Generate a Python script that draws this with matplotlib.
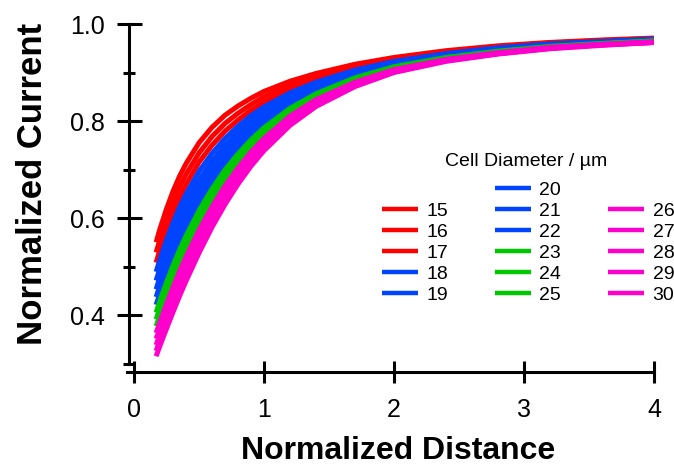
import matplotlib
matplotlib.use("Agg")
import matplotlib.pyplot as plt
from matplotlib.lines import Line2D
from matplotlib.ticker import FixedLocator

plt.rcParams['font.family'] = ['Liberation Sans', 'DejaVu Sans']

# Normalized tip-substrate distance at which each curve is sampled
distance = [0.17, 0.20, 0.25, 0.30, 0.35, 0.40, 0.50, 0.60, 0.70, 0.80, 0.90,
            1.00, 1.20, 1.40, 1.70, 2.00, 2.40, 2.80, 3.20, 3.60, 4.00]

# Cell diameters (µm) and their normalized approach curves
diameters = [15, 16, 17, 18, 19, 20, 21, 22, 23, 24, 25, 26, 27, 28, 29, 30]
current_15 = [0.550, 0.578, 0.619, 0.655, 0.686, 0.712, 0.755, 0.787, 0.812, 0.831, 0.847,
              0.861, 0.882, 0.898, 0.917, 0.931, 0.945, 0.955, 0.962, 0.967, 0.971]
current_16 = [0.529, 0.556, 0.597, 0.632, 0.664, 0.690, 0.734, 0.768, 0.795, 0.816, 0.834,
              0.850, 0.874, 0.892, 0.913, 0.928, 0.943, 0.953, 0.961, 0.966, 0.970]
current_17 = [0.508, 0.535, 0.575, 0.611, 0.642, 0.669, 0.715, 0.750, 0.779, 0.802, 0.822,
              0.839, 0.866, 0.886, 0.909, 0.926, 0.941, 0.952, 0.960, 0.965, 0.969]
current_18 = [0.489, 0.515, 0.555, 0.590, 0.622, 0.649, 0.696, 0.733, 0.764, 0.789, 0.811,
              0.829, 0.858, 0.880, 0.905, 0.923, 0.939, 0.951, 0.959, 0.964, 0.969]
current_19 = [0.471, 0.497, 0.536, 0.571, 0.603, 0.630, 0.678, 0.717, 0.750, 0.777, 0.800,
              0.820, 0.851, 0.875, 0.901, 0.921, 0.938, 0.949, 0.958, 0.963, 0.968]
current_20 = [0.453, 0.479, 0.517, 0.552, 0.584, 0.612, 0.662, 0.702, 0.736, 0.765, 0.789,
              0.811, 0.845, 0.870, 0.898, 0.918, 0.936, 0.948, 0.957, 0.962, 0.967]
current_21 = [0.437, 0.462, 0.500, 0.535, 0.567, 0.595, 0.645, 0.688, 0.723, 0.753, 0.779,
              0.802, 0.838, 0.865, 0.895, 0.916, 0.934, 0.947, 0.956, 0.962, 0.967]
current_22 = [0.421, 0.445, 0.483, 0.518, 0.550, 0.579, 0.630, 0.674, 0.711, 0.742, 0.770,
              0.794, 0.832, 0.861, 0.892, 0.914, 0.933, 0.946, 0.955, 0.961, 0.966]
current_23 = [0.405, 0.430, 0.467, 0.502, 0.534, 0.563, 0.615, 0.660, 0.699, 0.732, 0.761,
              0.786, 0.826, 0.856, 0.889, 0.912, 0.931, 0.944, 0.954, 0.960, 0.965]
current_24 = [0.391, 0.415, 0.452, 0.486, 0.519, 0.548, 0.601, 0.647, 0.687, 0.722, 0.752,
              0.778, 0.820, 0.852, 0.886, 0.910, 0.930, 0.943, 0.953, 0.959, 0.965]
current_25 = [0.377, 0.400, 0.437, 0.471, 0.504, 0.533, 0.588, 0.635, 0.676, 0.712, 0.744,
              0.771, 0.815, 0.848, 0.883, 0.908, 0.929, 0.942, 0.952, 0.959, 0.964]
current_26 = [0.363, 0.386, 0.423, 0.457, 0.490, 0.520, 0.575, 0.623, 0.666, 0.703, 0.736,
              0.764, 0.810, 0.844, 0.880, 0.906, 0.927, 0.941, 0.952, 0.958, 0.963]
current_27 = [0.351, 0.373, 0.409, 0.444, 0.476, 0.507, 0.562, 0.612, 0.656, 0.694, 0.728,
              0.757, 0.805, 0.840, 0.878, 0.904, 0.926, 0.940, 0.951, 0.958, 0.963]
current_28 = [0.338, 0.361, 0.397, 0.431, 0.464, 0.494, 0.551, 0.601, 0.646, 0.686, 0.721,
              0.751, 0.800, 0.837, 0.876, 0.903, 0.925, 0.939, 0.950, 0.957, 0.962]
current_29 = [0.326, 0.349, 0.384, 0.418, 0.451, 0.482, 0.539, 0.591, 0.637, 0.678, 0.714,
              0.745, 0.795, 0.833, 0.873, 0.901, 0.924, 0.939, 0.950, 0.957, 0.962]
current_30 = [0.315, 0.337, 0.372, 0.406, 0.439, 0.470, 0.528, 0.581, 0.628, 0.670, 0.707,
              0.739, 0.791, 0.830, 0.871, 0.900, 0.923, 0.938, 0.949, 0.956, 0.962]

curves = [current_15, current_16, current_17, current_18, current_19, current_20,
          current_21, current_22, current_23, current_24, current_25, current_26,
          current_27, current_28, current_29, current_30]

RED, BLUE, GREEN, MAGENTA = '#ff0000', '#0044ff', '#00c800', '#ff00cc'
colors = [RED] * 3 + [BLUE] * 5 + [GREEN] * 3 + [MAGENTA] * 5

x_ticks = [0, 1, 2, 3, 4]
y_ticks = [0.4, 0.6, 0.8, 1.0]
y_minor = [0.3, 0.5, 0.7, 0.9]

fig = plt.figure(figsize=(6.74, 4.67), dpi=100)
ax = fig.add_axes([127 / 674, 1 - 372 / 467, (654 - 127) / 674, (372 - 24) / 467])

handles = {}
for d, y, c in zip(diameters, curves, colors):
    line, = ax.plot(distance, y, color=c, lw=3.6, solid_capstyle='butt',
                    solid_joinstyle='round', label=str(d))
    handles[d] = line

ax.set_xlim(-0.054, 4.0)
ax.set_ylim(0.2825, 1.0)

for side in ('top', 'right'):
    ax.spines[side].set_visible(False)
ax.spines['left'].set_position(('data', -0.035))
ax.spines['left'].set_bounds(0.3, 1.0)
for side in ('left', 'bottom'):
    ax.spines[side].set_linewidth(2.2)

ax.set_xticks(x_ticks)
ax.set_xticklabels([str(t) for t in x_ticks])
ax.set_yticks(y_ticks)
ax.set_yticklabels([f'{t:.1f}' for t in y_ticks])
ax.yaxis.set_minor_locator(FixedLocator(y_minor))

ax.tick_params(axis='both', which='major', direction='inout', width=2.2, labelsize=18)
ax.tick_params(axis='y', which='major', length=18, pad=9)
ax.tick_params(axis='x', which='major', length=16, pad=11)
ax.tick_params(axis='y', which='minor', direction='inout', length=9, width=2.2)

ax.set_xlabel('Normalized Distance', fontsize=23, fontweight='bold')
ax.set_ylabel('Normalized Current', fontsize=25, fontweight='bold', labelpad=15)
ax.xaxis.set_label_coords(0.514, -0.183)
ax.yaxis.label.set_y(0.54)

# Legend in three columns; the middle column holds one extra row
fig.text(526 / 674, 1 - 162 / 467, 'Cell Diameter / µm', fontsize=14,
         ha='center', va='center')
blank = Line2D([], [], color='none')
order = [None, 15, 16, 17, 18, 19,
         20, 21, 22, 23, 24, 25,
         None, 26, 27, 28, 29, 30]
leg_handles = [blank if d is None else handles[d] for d in order]
leg_labels = ['' if d is None else str(d) for d in order]
leg = ax.legend(leg_handles, leg_labels, ncol=3, frameon=False, fontsize=14,
                handlelength=1.85, handletextpad=0.45, columnspacing=2.4,
                labelspacing=0.18, borderpad=0, borderaxespad=0,
                loc='upper center', bbox_to_anchor=(528 / 674, 1 - 181 / 467),
                bbox_transform=fig.transFigure)
for h in leg.legend_handles:
    h.set_linewidth(3.2)

fig.savefig('out.png', dpi=100)
